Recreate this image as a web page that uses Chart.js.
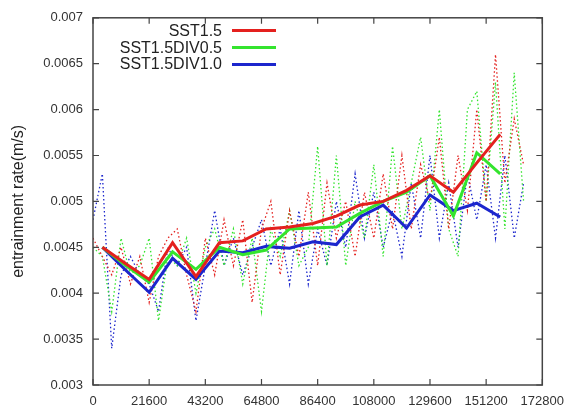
<!DOCTYPE html>
<html>
<head>
<meta charset="utf-8">
<script src="https://cdn.jsdelivr.net/npm/chart.js@4.4.1/dist/chart.umd.min.js"></script>
<style>
    body { margin: 0; background: #fff; }
    #wrap { position: relative; width: 573px; height: 410px; }
    #legend {
        position: absolute; left: 0; top: 22.6px;
        font-family: "Liberation Sans", Arial, sans-serif; font-size: 16px; color: #222;
    }
    .row { display: flex; align-items: center; height: 16.7px; }
    .row span { width: 222px; text-align: right; margin-right: 10px; line-height: 16px; }
    .row i { display: block; width: 44px; height: 3px; }
</style>
</head>
<body>
<div id="wrap">
    <canvas id="chart"></canvas>
    <div id="legend"></div>
</div>
<script>
// Series names and colours
const seriesNames = ['SST1.5', 'SST1.5DIV0.5', 'SST1.5DIV1.0'];
const seriesColors = ['rgb(228,32,30)', 'rgb(52,228,46)', 'rgb(28,38,205)'];

// Axis ticks
const xTicks = [0, 21600, 43200, 64800, 86400, 108000, 129600, 151200, 172800];
const yTicks = [0.003, 0.0035, 0.004, 0.0045, 0.005, 0.0055, 0.006, 0.0065, 0.007];
const yTickLabels = ['0.003', '0.0035', '0.004', '0.0045', '0.005', '0.0055', '0.006', '0.0065', '0.007'];

// Averaged (thick) lines
const avgTimes = [3600, 12600, 21600, 30600, 39600, 48600, 57600, 66600, 75600,
    84600, 93600, 102600, 111600, 120600, 129600, 138600, 147600, 156600];
const avgRed = [0.00450, 0.00432, 0.00415, 0.00455, 0.00418, 0.00455, 0.00457, 0.00470, 0.00472,
    0.00476, 0.00484, 0.00496, 0.00500, 0.00512, 0.00528, 0.00510, 0.00542, 0.00573];
const avgGreen = [0.00450, 0.00430, 0.00412, 0.00445, 0.00426, 0.00450, 0.00442, 0.00447, 0.00470,
    0.00471, 0.00472, 0.00487, 0.00500, 0.00510, 0.00528, 0.00484, 0.00553, 0.00530];
const avgBlue = [0.00450, 0.00425, 0.00401, 0.00438, 0.00415, 0.00446, 0.00444, 0.00451, 0.00449,
    0.00456, 0.00453, 0.00483, 0.00496, 0.00471, 0.00507, 0.00490, 0.00498, 0.00483];

// Raw (dotted) lines
const rawTimes = [0, 3600, 7200, 10800, 14400, 18000, 21600, 25200, 28800, 32400,
    36000, 39600, 43200, 46800, 50400, 54000, 57600, 61200, 64800, 68400,
    72000, 75600, 79200, 82800, 86400, 90000, 93600, 97200, 100800, 104400,
    108000, 111600, 115200, 118800, 122400, 126000, 129600, 133200, 136800, 140400,
    144000, 147600, 151200, 154800, 158400, 162000, 165600];
const rawRed = [0.0046, 0.0044, 0.0042, 0.0045, 0.0041, 0.0044, 0.0039, 0.0044, 0.0046, 0.0047,
    0.0042, 0.0038, 0.0046, 0.0042, 0.0048, 0.0043, 0.0048, 0.0039, 0.0047, 0.0050,
    0.0042, 0.0049, 0.0044, 0.0051, 0.0043, 0.0052, 0.0046, 0.0050, 0.0044, 0.0051,
    0.0046, 0.0053, 0.0047, 0.0055, 0.0047, 0.0054, 0.0050, 0.0057, 0.0047, 0.0055,
    0.0049, 0.0060, 0.0050, 0.0066, 0.0052, 0.0059, 0.0054];
const rawGreen = [0.0045, 0.0044, 0.0038, 0.0046, 0.0042, 0.0043, 0.0046, 0.0037, 0.0044, 0.0043,
    0.0046, 0.0040, 0.0045, 0.0047, 0.0043, 0.0047, 0.0041, 0.0046, 0.0038, 0.0047,
    0.0044, 0.0049, 0.0043, 0.0045, 0.0056, 0.0043, 0.0055, 0.0043, 0.0050, 0.0046,
    0.0054, 0.0044, 0.0056, 0.0047, 0.0052, 0.0057, 0.0049, 0.0060, 0.0047, 0.0044,
    0.0060, 0.0062, 0.0050, 0.0063, 0.0047, 0.0064, 0.0050];
const rawBlue = [0.0048, 0.0053, 0.0034, 0.0042, 0.0044, 0.0042, 0.0041, 0.0038, 0.0045, 0.0043,
    0.0045, 0.0037, 0.0043, 0.0049, 0.0043, 0.0046, 0.0042, 0.0045, 0.0048, 0.0043,
    0.0047, 0.0041, 0.0049, 0.0041, 0.0047, 0.0043, 0.0050, 0.0045, 0.0053, 0.0046,
    0.0051, 0.0045, 0.0049, 0.0044, 0.0052, 0.0046, 0.0055, 0.0046, 0.0052, 0.0045,
    0.0053, 0.0048, 0.0054, 0.0046, 0.0055, 0.0046, 0.0052];

const FONT = '"Liberation Sans", Arial, sans-serif';

function toPoints(times, values) {
    return times.map((t, i) => ({ x: t, y: values[i] }));
}

function solidSet(k, values) {
    return {
        label: seriesNames[k],
        data: toPoints(avgTimes, values),
        borderColor: seriesColors[k],
        borderWidth: 3,
        pointRadius: 0,
        tension: 0,
        order: k + 1
    };
}

function dottedSet(k, values) {
    return {
        label: seriesNames[k] + ' raw',
        data: toPoints(rawTimes, values),
        borderColor: seriesColors[k],
        borderWidth: 1.3,
        borderDash: [1.5, 2.5],
        pointRadius: 0,
        tension: 0,
        order: 10 + k
    };
}

// Box and inward tick marks, like the original plot
const frame = {
    id: 'frame',
    afterDatasetsDraw(chart) {
        const { ctx, chartArea: a, scales } = chart;
        ctx.save();
        ctx.strokeStyle = '#444';
        ctx.lineWidth = 1.5;
        ctx.strokeRect(a.left, a.top, a.right - a.left, a.bottom - a.top);
        ctx.lineWidth = 1.2;
        ctx.beginPath();
        yTicks.forEach(v => {
            const y = scales.y.getPixelForValue(v);
            ctx.moveTo(a.left, y); ctx.lineTo(a.left + 6, y);
            ctx.moveTo(a.right, y); ctx.lineTo(a.right - 6, y);
        });
        xTicks.forEach(v => {
            const x = scales.x.getPixelForValue(v);
            ctx.moveTo(x, a.bottom); ctx.lineTo(x, a.bottom - 6);
            ctx.moveTo(x, a.top); ctx.lineTo(x, a.top + 6);
        });
        ctx.stroke();
        ctx.restore();
    }
};

new Chart(document.getElementById('chart'), {
    type: 'line',
    data: {
        datasets: [
            solidSet(0, avgRed), solidSet(1, avgGreen), solidSet(2, avgBlue),
            dottedSet(0, rawRed), dottedSet(1, rawGreen), dottedSet(2, rawBlue)
        ]
    },
    options: {
        responsive: true,
        maintainAspectRatio: false,
        animation: false,
        layout: { padding: { top: 17, right: 25, left: 0, bottom: 0 } },
        plugins: { legend: { display: false }, tooltip: { enabled: false } },
        scales: {
            x: {
                type: 'linear',
                min: 0, max: 172800,
                afterBuildTicks: s => { s.ticks = xTicks.map(v => ({ value: v })); },
                afterFit: s => { s.height = 25; },
                grid: { display: false, drawTicks: false },
                border: { display: false },
                ticks: {
                    autoSkip: false, maxRotation: 0, padding: 9,
                    color: '#333', font: { family: FONT, size: 13 },
                    callback: v => String(v)
                }
            },
            y: {
                min: 0.003, max: 0.007,
                afterBuildTicks: s => { s.ticks = yTicks.map(v => ({ value: v })); },
                afterFit: s => { s.width = 93; },
                grid: { display: false, drawTicks: false },
                border: { display: false },
                ticks: {
                    padding: 10,
                    color: '#333', font: { family: FONT, size: 13 },
                    callback: v => yTickLabels[yTicks.findIndex(t => Math.abs(t - v) < 1e-9)]
                },
                title: {
                    display: true,
                    text: 'entrainment rate(m/s)',
                    color: '#222',
                    font: { family: FONT, size: 16 },
                    padding: { top: 9, bottom: 0 }
                }
            }
        }
    },
    plugins: [frame]
});

// Legend inside the plot, text left of the line sample
document.getElementById('legend').innerHTML = seriesNames.map((n, k) =>
    `<div class="row"><span>${n}</span><i style="background:${seriesColors[k]}"></i></div>`
).join('');
</script>
</body>
</html>
